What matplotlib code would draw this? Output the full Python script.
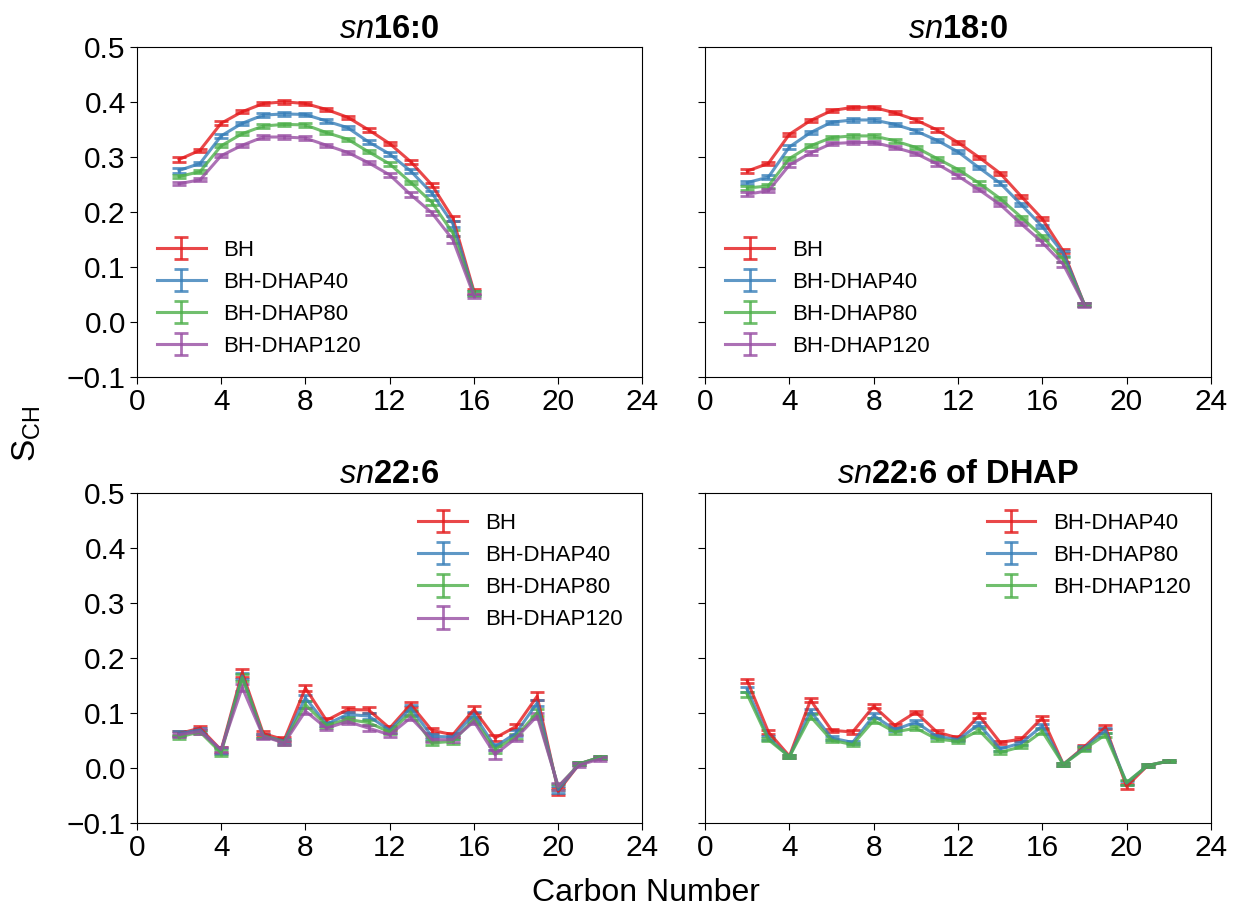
import matplotlib
matplotlib.use('Agg')
import matplotlib.pyplot as plt
import numpy as np

plt.rcParams['font.family'] = ['Liberation Sans', 'DejaVu Sans']
plt.rcParams['mathtext.fontset'] = 'custom'
plt.rcParams['mathtext.rm'] = 'Liberation Sans'
plt.rcParams['mathtext.it'] = 'Liberation Sans:italic'
plt.rcParams['mathtext.bf'] = 'Liberation Sans:bold'

colors = ['#e41a1c', '#377eb8', '#4daf4a', '#984ea3']  # Set1

# sn16:0 (carbons 2..16)
c16 = list(range(2, 17))
p16_bh = [0.296, 0.313, 0.362, 0.383, 0.398, 0.401, 0.398, 0.387, 0.373, 0.350, 0.325, 0.292, 0.250, 0.189, 0.056]
p16_d40 = [0.276, 0.289, 0.339, 0.362, 0.377, 0.379, 0.378, 0.366, 0.354, 0.328, 0.306, 0.275, 0.235, 0.179, 0.053]
p16_d80 = [0.265, 0.274, 0.321, 0.343, 0.357, 0.360, 0.359, 0.345, 0.333, 0.310, 0.288, 0.254, 0.218, 0.162, 0.052]
p16_d120 = [0.252, 0.259, 0.303, 0.322, 0.337, 0.337, 0.335, 0.322, 0.309, 0.290, 0.268, 0.232, 0.199, 0.150, 0.048]
e16_bh = [0.004, 0.003, 0.004, 0.003, 0.003, 0.003, 0.003, 0.003, 0.003, 0.003, 0.003, 0.004, 0.004, 0.005, 0.005]
e16_d40 = [0.004, 0.003, 0.004, 0.003, 0.003, 0.003, 0.003, 0.003, 0.003, 0.003, 0.003, 0.003, 0.004, 0.005, 0.004]
e16_d80 = [0.003, 0.003, 0.003, 0.003, 0.003, 0.003, 0.003, 0.003, 0.003, 0.003, 0.003, 0.003, 0.004, 0.005, 0.004]
e16_d120 = [0.003, 0.003, 0.003, 0.003, 0.003, 0.003, 0.003, 0.003, 0.003, 0.003, 0.003, 0.004, 0.004, 0.006, 0.004]

# sn18:0 (carbons 2..18)
c18 = list(range(2, 19))
p18_bh = [0.275, 0.289, 0.342, 0.367, 0.385, 0.391, 0.391, 0.381, 0.368, 0.350, 0.327, 0.300, 0.271, 0.229, 0.188, 0.129, 0.032]
p18_d40 = [0.254, 0.264, 0.319, 0.345, 0.364, 0.368, 0.368, 0.360, 0.348, 0.331, 0.310, 0.281, 0.253, 0.214, 0.174, 0.125, 0.032]
p18_d80 = [0.244, 0.248, 0.298, 0.321, 0.336, 0.339, 0.339, 0.330, 0.318, 0.298, 0.278, 0.253, 0.225, 0.191, 0.156, 0.114, 0.032]
p18_d120 = [0.233, 0.239, 0.286, 0.308, 0.325, 0.327, 0.327, 0.318, 0.307, 0.288, 0.266, 0.241, 0.214, 0.179, 0.145, 0.105, 0.031]
e18_bh = [0.003, 0.003, 0.003, 0.003, 0.003, 0.003, 0.003, 0.003, 0.003, 0.003, 0.003, 0.003, 0.003, 0.003, 0.003, 0.004, 0.003]
e18_d40 = [0.003, 0.003, 0.003, 0.003, 0.003, 0.003, 0.003, 0.003, 0.003, 0.003, 0.003, 0.003, 0.003, 0.003, 0.003, 0.004, 0.003]
e18_d80 = [0.003, 0.003, 0.003, 0.003, 0.003, 0.003, 0.003, 0.003, 0.003, 0.003, 0.003, 0.003, 0.003, 0.003, 0.003, 0.004, 0.003]
e18_d120 = [0.003, 0.003, 0.003, 0.003, 0.003, 0.003, 0.003, 0.003, 0.003, 0.003, 0.003, 0.003, 0.003, 0.003, 0.004, 0.004, 0.003]

# sn22:6 (carbons 2..22)
c22 = list(range(2, 23))
p22_bh = [0.062, 0.072, 0.032, 0.173, 0.062, 0.051, 0.145, 0.086, 0.106, 0.105, 0.072, 0.115, 0.068, 0.060, 0.106, 0.054, 0.075, 0.130, -0.043, 0.007, 0.019]
p22_d40 = [0.062, 0.069, 0.030, 0.167, 0.058, 0.048, 0.127, 0.079, 0.097, 0.094, 0.068, 0.109, 0.057, 0.056, 0.097, 0.038, 0.063, 0.118, -0.040, 0.007, 0.019]
p22_d80 = [0.056, 0.065, 0.027, 0.164, 0.058, 0.046, 0.115, 0.077, 0.088, 0.082, 0.065, 0.100, 0.045, 0.048, 0.088, 0.033, 0.057, 0.100, -0.035, 0.007, 0.019]
p22_d120 = [0.060, 0.066, 0.033, 0.146, 0.057, 0.045, 0.103, 0.072, 0.084, 0.072, 0.060, 0.091, 0.051, 0.051, 0.084, 0.024, 0.054, 0.094, -0.034, 0.005, 0.016]
e22_bh = [0.004, 0.004, 0.005, 0.007, 0.004, 0.004, 0.006, 0.004, 0.005, 0.005, 0.004, 0.005, 0.004, 0.004, 0.006, 0.005, 0.005, 0.007, 0.006, 0.003, 0.003]
e22_d40 = [0.004, 0.004, 0.005, 0.006, 0.004, 0.004, 0.006, 0.004, 0.005, 0.005, 0.004, 0.005, 0.005, 0.004, 0.005, 0.006, 0.005, 0.006, 0.006, 0.003, 0.003]
e22_d80 = [0.004, 0.004, 0.005, 0.006, 0.004, 0.004, 0.006, 0.004, 0.005, 0.005, 0.004, 0.005, 0.004, 0.004, 0.005, 0.006, 0.005, 0.006, 0.006, 0.003, 0.003]
e22_d120 = [0.004, 0.004, 0.005, 0.007, 0.004, 0.004, 0.006, 0.004, 0.005, 0.005, 0.004, 0.005, 0.004, 0.004, 0.005, 0.008, 0.005, 0.006, 0.006, 0.003, 0.003]

# sn22:6 of DHAP (carbons 2..22)
d22_d40 = [0.158, 0.065, 0.021, 0.123, 0.068, 0.065, 0.112, 0.077, 0.101, 0.065, 0.054, 0.095, 0.046, 0.052, 0.091, 0.006, 0.038, 0.074, -0.034, 0.004, 0.012]
d22_d80 = [0.142, 0.054, 0.020, 0.103, 0.054, 0.046, 0.095, 0.069, 0.083, 0.057, 0.051, 0.079, 0.034, 0.045, 0.076, 0.006, 0.036, 0.068, -0.028, 0.004, 0.012]
d22_d120 = [0.133, 0.051, 0.020, 0.093, 0.050, 0.042, 0.086, 0.065, 0.072, 0.052, 0.048, 0.068, 0.028, 0.038, 0.066, 0.006, 0.034, 0.060, -0.027, 0.004, 0.012]
f22_d40 = [0.004, 0.003, 0.003, 0.004, 0.003, 0.003, 0.004, 0.003, 0.003, 0.003, 0.003, 0.004, 0.003, 0.003, 0.004, 0.003, 0.003, 0.004, 0.004, 0.002, 0.002]
f22_d80 = [0.004, 0.003, 0.003, 0.004, 0.003, 0.003, 0.004, 0.003, 0.003, 0.003, 0.003, 0.004, 0.003, 0.003, 0.004, 0.003, 0.003, 0.004, 0.004, 0.002, 0.002]
f22_d120 = [0.004, 0.003, 0.003, 0.004, 0.003, 0.003, 0.004, 0.003, 0.003, 0.003, 0.003, 0.004, 0.003, 0.003, 0.004, 0.003, 0.003, 0.004, 0.004, 0.002, 0.002]

labels4 = ['BH', 'BH-DHAP40', 'BH-DHAP80', 'BH-DHAP120']
labels3 = ['BH-DHAP40', 'BH-DHAP80', 'BH-DHAP120']

panels = [
    (r'$\mathit{sn}$16:0', c16, [p16_bh, p16_d40, p16_d80, p16_d120], [e16_bh, e16_d40, e16_d80, e16_d120], labels4, 'lower left'),
    (r'$\mathit{sn}$18:0', c18, [p18_bh, p18_d40, p18_d80, p18_d120], [e18_bh, e18_d40, e18_d80, e18_d120], labels4, 'lower left'),
    (r'$\mathit{sn}$22:6', c22, [p22_bh, p22_d40, p22_d80, p22_d120], [e22_bh, e22_d40, e22_d80, e22_d120], labels4, 'upper right'),
    (r'$\mathit{sn}$22:6 of DHAP', c22, [d22_d40, d22_d80, d22_d120], [f22_d40, f22_d80, f22_d120], labels3, 'upper right'),
]

fig, axes = plt.subplots(2, 2, figsize=(12.33, 9.13), dpi=100, sharey=True)
fig.subplots_adjust(left=0.111, right=0.982, top=0.948, bottom=0.099, wspace=0.124, hspace=0.352)

for ax, (title, x, ys, es, labs, loc) in zip(axes.flat, panels):
    for i, (y, e, lab) in enumerate(zip(ys, es, labs)):
        ax.errorbar(x, y, yerr=e, color=colors[i], alpha=0.8, lw=2.2,
                    capsize=5, elinewidth=2, capthick=2, label=lab)
    ax.set_xlim(0, 24)
    ax.set_ylim(-0.1, 0.5)
    ax.set_xticks(np.arange(0, 25, 4))
    ax.set_yticks(np.arange(-0.1, 0.51, 0.1))
    ax.tick_params(labelsize=21.5, length=5, pad=3)
    ax.set_title(title, fontsize=23.5, fontweight='bold', pad=7)
    ax.legend(loc=loc, frameon=False, fontsize=16, handlelength=2.2)

axes[0, 0].set_yticklabels(['\u22120.1', '0.0', '0.1', '0.2', '0.3', '0.4', '0.5'])
fig.text(0.022, 0.525, r'S$_{\mathrm{CH}}$', fontsize=24, rotation=90, ha='center', va='center')
fig.text(0.524, 0.005, 'Carbon Number', fontsize=23, ha='center', va='bottom')

plt.savefig('out.png', dpi=100)
